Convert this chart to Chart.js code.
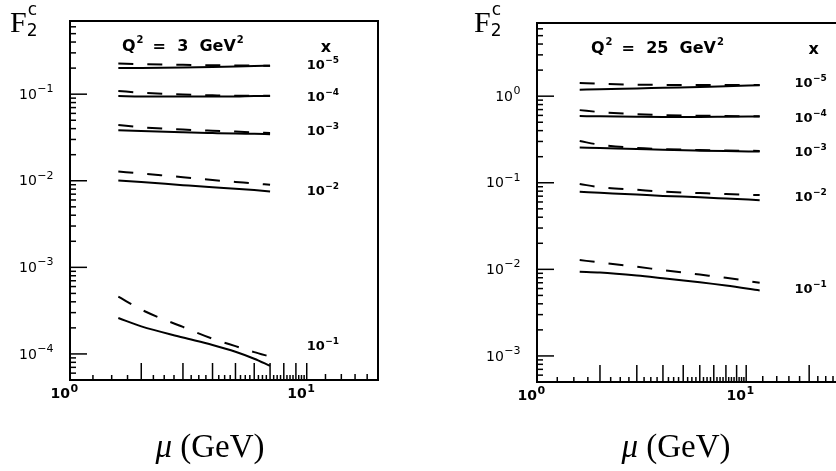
<!DOCTYPE html>
<html>
<head>
<meta charset="utf-8">
<script src="https://cdn.jsdelivr.net/npm/chart.js@4/dist/chart.umd.min.js"></script>
<style>
html, body { margin: 0; padding: 0; background: #fff; overflow: hidden; width: 836px; height: 471px; }
canvas { position: absolute; top: 0; }
#left { left: 0; }
#right { left: 418px; }
</style>
</head>
<body>
<canvas id="left" width="418" height="471"></canvas>
<canvas id="right" width="440" height="471"></canvas>
<script>
'use strict';

// mu values (GeV) where curves are read
const muQ3 = [1.6, 2, 3, 4, 5, 6, 7];
const muQ25 = [1.6, 2, 3, 4, 6, 8, 11.6];

// x labels of the curves (exponents of 10), top to bottom
const xExps = ['\u22125', '\u22124', '\u22123', '\u22122', '\u22121'];

// Q^2 = 3 GeV^2, one row per x value
const q3Solid = [
    [0.201, 0.201, 0.203, 0.206, 0.209, 0.211, 0.213],
    [0.095, 0.094, 0.094, 0.094, 0.094, 0.095, 0.095],
    [0.0384, 0.0375, 0.0363, 0.0356, 0.0351, 0.0348, 0.0345],
    [0.0101, 0.0097, 0.0089, 0.0084, 0.0081, 0.0078, 0.0075],
    [2.6e-4, 2.08e-4, 1.55e-4, 1.27e-4, 1.06e-4, 8.8e-5, 7.3e-5]
];
const q3Dashed = [
    [0.226, 0.222, 0.218, 0.216, 0.215, 0.214, 0.213],
    [0.109, 0.104, 0.099, 0.097, 0.096, 0.096, 0.096],
    [0.0441, 0.0415, 0.039, 0.0378, 0.037, 0.0362, 0.0357],
    [0.0128, 0.0121, 0.0110, 0.0102, 0.0097, 0.0093, 0.0090],
    [4.6e-4, 3.25e-4, 2.05e-4, 1.5e-4, 1.23e-4, 1.05e-4, 9.3e-5]
];

// Q^2 = 25 GeV^2
const q25Solid = [
    [1.19, 1.20, 1.23, 1.25, 1.28, 1.30, 1.34],
    [0.59, 0.585, 0.578, 0.575, 0.575, 0.578, 0.582],
    [0.256, 0.252, 0.245, 0.24, 0.235, 0.232, 0.229],
    [0.0785, 0.0765, 0.073, 0.0705, 0.068, 0.0658, 0.063],
    [0.0094, 0.0092, 0.0085, 0.0079, 0.0071, 0.0065, 0.0057]
];
const q25Dashed = [
    [1.42, 1.39, 1.36, 1.35, 1.35, 1.35, 1.35],
    [0.69, 0.655, 0.62, 0.605, 0.595, 0.59, 0.585],
    [0.303, 0.275, 0.252, 0.245, 0.239, 0.236, 0.233],
    [0.0967, 0.089, 0.083, 0.079, 0.076, 0.074, 0.072],
    [0.0128, 0.0120, 0.0107, 0.0098, 0.0087, 0.0080, 0.0070]
];

// where the x = 10^-n labels sit (mu, F2c)
const q3LabelAt = [[10, 0.216], [10, 0.092], [10, 0.0365], [10, 0.0074], [10, 1.2e-4]];
const q25LabelAt = [[17, 1.41], [17, 0.557], [17, 0.22], [17, 0.068], [17, 0.0058]];

// y tick decades
const q3Decades = [-4, -3, -2, -1];
const q25Decades = [-3, -2, -1, 0];

function drawPow(ctx, exp, x, y, baseFont, supFont, raise, align) {
    ctx.font = baseFont;
    const wb = ctx.measureText('10').width;
    ctx.font = supFont;
    const ws = ctx.measureText(exp).width;
    let x0 = x;
    if (align === 'right') x0 = x - wb - ws;
    if (align === 'center') x0 = x - (wb + ws) / 2;
    ctx.textAlign = 'left';
    ctx.textBaseline = 'middle';
    ctx.font = baseFont;
    ctx.fillText('10', x0, y);
    ctx.font = supFont;
    ctx.fillText(exp, x0 + wb + 0.5, y - raise);
}

function makeDatasets(mu, solid, dashed) {
    const sets = [];
    solid.forEach(row => {
        sets.push({
            data: mu.map((m, i) => ({ x: m, y: row[i] })),
            borderColor: '#000', borderWidth: 2, pointRadius: 0,
            cubicInterpolationMode: 'monotone'
        });
    });
    dashed.forEach(row => {
        sets.push({
            data: mu.map((m, i) => ({ x: m, y: row[i] })),
            borderColor: '#000', borderWidth: 2, pointRadius: 0,
            borderDash: [15, 14], cubicInterpolationMode: 'monotone'
        });
    });
    return sets;
}

const framePlugin = {
    id: 'frame',
    afterDraw(chart, args, opts) {
        const ctx = chart.ctx;
        const a = chart.chartArea;
        const xs = chart.scales.x, ys = chart.scales.y;
        ctx.save();
        ctx.strokeStyle = '#000';
        ctx.fillStyle = '#000';
        ctx.lineWidth = 2;
        ctx.strokeRect(a.left, a.top, a.right - a.left, a.bottom - a.top);

        // y ticks, inward
        ctx.lineWidth = 1.5;
        const first = opts.decades[0] - 1;
        const last = opts.decades[opts.decades.length - 1] + 1;
        for (let d = first; d <= last; d++) {
            for (let k = 1; k <= 9; k++) {
                const v = k * Math.pow(10, d);
                if (v < ys.min || v > ys.max) continue;
                const py = ys.getPixelForValue(v);
                ctx.beginPath();
                ctx.moveTo(a.left, py);
                ctx.lineTo(a.left + (k === 1 ? 17 : 6), py);
                ctx.stroke();
            }
        }
        opts.decades.forEach(d => {
            drawPow(ctx, (d < 0 ? '\u2212' + (-d) : '' + d), a.left - 17, ys.getPixelForValue(Math.pow(10, d)) + 1,
                '14px "DejaVu Sans"', '11px "DejaVu Sans"', 6, 'right');
        });

        // x ticks, inward
        for (let m = 1.25; m < xs.max; m += (m < 10 ? 0.25 : 2)) {
            const isInt = Math.abs(m - Math.round(m)) < 1e-6;
            let len = 5;
            if (isInt && m >= 2 && m <= 10) len = 17;
            if (m === 20) len = 17;
            if (m > 10 && m !== 20) len = 6;
            const px = xs.getPixelForValue(m);
            ctx.beginPath();
            ctx.moveTo(px, a.bottom);
            ctx.lineTo(px, a.bottom - len);
            ctx.stroke();
        }
        drawPow(ctx, '0', xs.getPixelForValue(1) - 6, a.bottom + 14, 'bold 14px "DejaVu Sans"', 'bold 11px "DejaVu Sans"', 5, 'center');
        drawPow(ctx, '1', xs.getPixelForValue(10) - 6, a.bottom + 14, 'bold 14px "DejaVu Sans"', 'bold 11px "DejaVu Sans"', 5, 'center');

        // curve labels
        ctx.textBaseline = 'alphabetic';
        ctx.font = 'bold 16px "DejaVu Sans"';
        ctx.fillText('x', xs.getPixelForValue(opts.labelAt[0][0]) + 14, a.top + 31);
        opts.labelAt.forEach((p, i) => {
            drawPow(ctx, xExps[i], xs.getPixelForValue(p[0]), ys.getPixelForValue(p[1]),
                'bold 13px "DejaVu Sans"', 'bold 9px "DejaVu Sans"', 5, 'left');
        });

        // Q^2 title
        ctx.textAlign = 'left';
        ctx.textBaseline = 'alphabetic';
        let tx = a.left + opts.titleX;
        const ty = a.top + 30;
        ctx.font = 'bold 16px "DejaVu Sans"';
        ctx.fillText('Q', tx, ty);
        tx += ctx.measureText('Q').width + 1;
        ctx.font = 'bold 10px "DejaVu Sans"';
        ctx.fillText('2', tx, ty - 8);
        tx += 16;
        ctx.font = 'bold 16px "DejaVu Sans"';
        const rest = '=  ' + opts.q2 + '  GeV';
        ctx.fillText(rest, tx, ty);
        tx += ctx.measureText(rest).width + 1;
        ctx.font = 'bold 10px "DejaVu Sans"';
        ctx.fillText('2', tx, ty - 8);

        // F2c
        const fx = a.left - opts.fOffset;
        ctx.font = '30px "Liberation Serif"';
        ctx.fillText('F', fx, 32);
        const fw = ctx.measureText('F').width;
        ctx.font = '17px "DejaVu Sans"';
        ctx.fillText('2', fx + fw, 36);
        ctx.fillText('c', fx + fw + 1, 15);

        // mu (GeV)
        const cx = a.left + opts.muCenter;
        ctx.font = 'italic 33px "Liberation Serif"';
        const wm = ctx.measureText('\u03bc').width;
        ctx.font = '33px "Liberation Serif"';
        const wg = ctx.measureText(' (GeV)').width;
        const mx = cx - (wm + wg) / 2;
        ctx.font = 'italic 33px "Liberation Serif"';
        ctx.fillText('\u03bc', mx, 457);
        ctx.font = '33px "Liberation Serif"';
        ctx.fillText(' (GeV)', mx + wm, 457);
        ctx.restore();
    }
};

function makeChart(id, mu, solid, dashed, xMax, yMin, yMax, padding, frame) {
    return new Chart(document.getElementById(id), {
        type: 'line',
        data: { datasets: makeDatasets(mu, solid, dashed) },
        options: {
            responsive: false,
            animation: false,
            devicePixelRatio: 1,
            layout: { padding: padding },
            plugins: { legend: { display: false }, tooltip: { enabled: false }, frame: frame },
            scales: {
                x: { type: 'logarithmic', min: 1, max: xMax, display: false },
                y: { type: 'logarithmic', min: yMin, max: yMax, display: false }
            }
        },
        plugins: [framePlugin]
    });
}

makeChart('left', muQ3, q3Solid, q3Dashed, 20, 5e-5, 0.7,
    { left: 70, top: 21, right: 40, bottom: 91 },
    { decades: q3Decades, labelAt: q3LabelAt, q2: '3', titleX: 52, fOffset: 60, muCenter: 140 });

makeChart('right', muQ25, q25Solid, q25Dashed, 30, 5e-4, 7,
    { left: 119, top: 23, right: 12, bottom: 89 },
    { decades: q25Decades, labelAt: q25LabelAt, q2: '25', titleX: 54, fOffset: 63, muCenter: 139 });
</script>
</body>
</html>
